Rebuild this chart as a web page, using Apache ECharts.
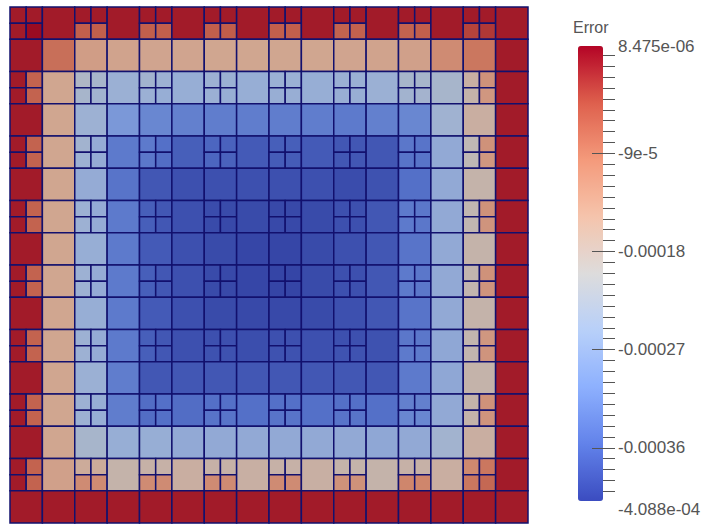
<!DOCTYPE html>
<html>
<head>
<meta charset="utf-8">
<script src="https://cdn.jsdelivr.net/npm/echarts@6/dist/echarts.min.js"></script>
<style>html,body{margin:0;padding:0;background:#fff;}#chart{width:711px;height:525px;}</style>
</head>
<body>
<div id="chart"></div>
<script>
// Error values in units of 1e-6. A number = unrefined cell; an array = cell split in 4: [TL, TR, BL, BR].
// Rows listed top to bottom, columns left to right (16 x 16 coarse mesh).
const errorGridMicro = [
  [[-4,-4,-4,8], -4, [-4,-4,-58,-58], -4, [-4,-4,-58,-58], -4, [-4,-4,-58,-55], -4, [-4,-4,-58,-58], -4, [-4,-4,-62,-60], -4, [-4,-4,-62,-58], -4, [-4,-4,-33,-25], -4],
  [-4, -75, -133, -142, -144, -144, -146, -146, -146, -146, -144, -142, -138, -108, -83, -4],
  [[-4,-62,-4,-62], -146, [-221,-234,-234,-242], -254, [-242,-250,-254,-259], -259, [-250,-254,-254,-258], -259, [-254,-254,-258,-258], -259, [-254,-254,-258,-258], -254, [-234,-234,-242,-240], -234, [-170,-117,-179,-125], -4],
  [-4, -146, -250, -300, -325, -334, -338, -338, -338, -338, -342, -334, -325, -246, -167, -4],
  [[-4,-62,-4,-62], -146, [-242,-263,-250,-263], -342, [-342,-355,-346,-359], -375, [-367,-371,-367,-371], -380, [-375,-375,-378,-378], -380, [-384,-384,-384,-384], -384, [-346,-350,-350,-350], -267, [-192,-117,-192,-125], -4],
  [-4, -146, -263, -350, -384, -392, -392, -392, -392, -392, -396, -390, -355, -267, -179, -4],
  [[-4,-62,-4,-62], -146, [-250,-263,-250,-263], -342, [-375,-384,-375,-384], -392, [-396,-398,-398,-400], -398, [-400,-400,-400,-400], -398, [-392,-392,-392,-392], -384, [-342,-346,-342,-346], -267, [-188,-117,-188,-121], -4],
  [-4, -146, -259, -342, -380, -392, -398, -403, -403, -398, -392, -384, -350, -267, -179, -4],
  [[-4,-62,-4,-62], -146, [-250,-263,-250,-263], -342, [-375,-384,-375,-384], -392, [-398,-400,-398,-400], -403, [-404,-404,-404,-404], -398, [-392,-392,-392,-392], -384, [-342,-346,-342,-346], -267, [-185,-117,-185,-121], -4],
  [-4, -146, -259, -342, -380, -392, -398, -400, -400, -398, -392, -384, -350, -267, -179, -4],
  [[-4,-62,-4,-62], -146, [-250,-263,-250,-263], -342, [-375,-384,-375,-384], -392, [-392,-392,-390,-390], -394, [-392,-392,-390,-390], -392, [-392,-392,-388,-388], -390, [-346,-346,-342,-342], -271, [-185,-125,-185,-121], -4],
  [-4, -146, -254, -338, -384, -384, -384, -384, -384, -384, -384, -384, -342, -271, -179, -4],
  [[-4,-62,-4,-62], -146, [-250,-259,-250,-259], -338, [-359,-355,-359,-355], -359, [-355,-355,-350,-350], -355, [-355,-355,-350,-350], -355, [-355,-355,-350,-350], -355, [-334,-334,-325,-325], -267, [-179,-117,-179,-121], -4],
  [-4, -146, -234, -259, -259, -267, -267, -267, -267, -267, -267, -271, -267, -242, -167, -4],
  [[-4,-62,-4,-62], -138, [-158,-158,-108,-108], -179, [-175,-175,-108,-108], -167, [-175,-175,-108,-108], -170, [-175,-175,-108,-108], -170, [-179,-179,-117,-117], -179, [-175,-175,-100,-100], -167, [-104,-83,-83,-67], -4],
  [-4, -4, -4, -4, -4, -4, -4, -4, -4, -4, -4, -4, -4, -4, -4, -4]
];

// Colour range (units of 1e-6)
const rangeMin = -408.8;
const rangeMax = 8.475;

// Colour bar labels
const labelValues = [8.475, -90, -180, -270, -360, -408.8];
const labelTexts = ['8.475e-06', '-9e-5', '-0.00018', '-0.00027', '-0.00036', '-4.088e-04'];
const majorTickValues = [-90, -180, -270, -360];
const minorStep = 10;

// Cool-to-warm colour map (bar) and its shaded version (mesh surface)
const barColors = ['#3b4cc0', '#6282ea', '#8db0fe', '#b8d0f9', '#dddcdc', '#f5c4ac', '#f49a7b', '#de604d', '#b40426'];
const meshColors = ['#3241a3', '#536fc7', '#7896d8', '#9cb1d4', '#bcbbbb', '#d0a792', '#cf8369', '#bd5241', '#9a0a22'];

// Build cell table [x0, y0, x1, y1, value] in mesh index space
const meshData = [];
errorGridMicro.forEach(function (row, j) {
  row.forEach(function (cell, i) {
    if (Array.isArray(cell)) {
      meshData.push([i, j, i + 0.5, j + 0.5, cell[0]]);
      meshData.push([i + 0.5, j, i + 1, j + 0.5, cell[1]]);
      meshData.push([i, j + 0.5, i + 0.5, j + 1, cell[2]]);
      meshData.push([i + 0.5, j + 0.5, i + 1, j + 1, cell[3]]);
    } else {
      meshData.push([i, j, i + 1, j + 1, cell]);
    }
  });
});

const minorTickValues = [];
for (let v = 0; v >= rangeMin; v -= minorStep) {
  if (majorTickValues.indexOf(v) < 0) minorTickValues.push(v);
}

const chart = echarts.init(document.getElementById('chart'), null, { renderer: 'svg' });
const FONT = 'Liberation Sans';

chart.setOption({
  animation: false,
  backgroundColor: '#ffffff',
  title: {
    text: 'Error', left: 573, top: 19, padding: 0,
    textStyle: { fontSize: 16, fontWeight: 'normal', color: '#555', fontFamily: FONT }
  },
  grid: [
    { left: 10, top: 7, width: 518, height: 516 },
    { left: 615, top: 46, width: 60, height: 455 },
    { left: 615, top: 46, width: 60, height: 455 }
  ],
  xAxis: [
    { type: 'value', gridIndex: 0, min: 0, max: 16, show: false },
    { type: 'value', gridIndex: 1, min: 0, max: 1, show: false },
    { type: 'value', gridIndex: 2, min: 0, max: 1, show: false }
  ],
  yAxis: [
    { type: 'value', gridIndex: 0, min: 0, max: 16, inverse: true, show: false },
    {
      type: 'value', gridIndex: 1, position: 'left', min: rangeMin, max: rangeMax, z: 10,
      axisLine: { show: false }, splitLine: { show: false },
      axisTick: { show: true, inside: false, length: 23, customValues: majorTickValues, lineStyle: { color: '#555', width: 1 } },
      axisLabel: {
        show: true, inside: true, customValues: labelValues, margin: 3, fontSize: 17, color: '#555', fontFamily: FONT,
        verticalAlignMaxLabel: 'top',
        formatter: function (v) {
          let best = 0;
          labelValues.forEach(function (lv, k) { if (Math.abs(lv - v) < Math.abs(labelValues[best] - v)) best = k; });
          return labelTexts[best];
        }
      }
    },
    {
      type: 'value', gridIndex: 2, position: 'left', min: rangeMin, max: rangeMax, z: 10,
      axisLine: { show: false }, splitLine: { show: false },
      axisTick: { show: true, inside: false, length: 12, customValues: minorTickValues, lineStyle: { color: '#555', width: 1 } },
      axisLabel: { show: false }
    }
  ],
  visualMap: [
    {
      type: 'continuous', show: false, min: rangeMin, max: rangeMax, dimension: 4, seriesIndex: 0,
      inRange: { color: meshColors }
    },
    {
      type: 'continuous', show: true, min: rangeMin, max: rangeMax, seriesIndex: 1, calculable: false,
      left: 578, top: 46, itemWidth: 25, itemHeight: 455, padding: 0, text: null, hoverLink: false,
      inRange: { color: barColors }
    }
  ],
  series: [
    {
      type: 'custom', xAxisIndex: 0, yAxisIndex: 0, data: meshData,
      renderItem: function (params, api) {
        const p0 = api.coord([api.value(0), api.value(1)]);
        const p1 = api.coord([api.value(2), api.value(3)]);
        return {
          type: 'rect',
          shape: { x: p0[0], y: p0[1], width: p1[0] - p0[0], height: p1[1] - p0[1] },
          style: { fill: api.visual('color'), stroke: '#12106e', lineWidth: 1.5 }
        };
      }
    },
    {
      type: 'custom', xAxisIndex: 1, yAxisIndex: 1, data: [],
      renderItem: function () { return null; }
    }
  ]
});
</script>
</body>
</html>
